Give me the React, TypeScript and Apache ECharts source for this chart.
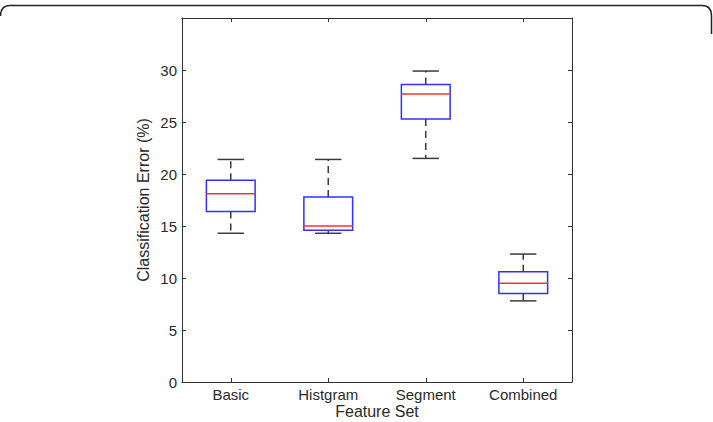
import React, { useEffect, useRef } from "react";
import * as echarts from "echarts";

// Feature sets and their classification-error distributions (%)
const categories = ["Basic", "Histgram", "Segment", "Combined"];
const lowerWhisker = [14.3, 14.3, 21.5, 7.8];
const firstQuartile = [16.4, 14.6, 25.3, 8.5];
const medians = [18.1, 15.0, 27.7, 9.5];
const thirdQuartile = [19.4, 17.8, 28.6, 10.6];
const upperWhisker = [21.4, 21.4, 29.9, 12.3];
const yTicks = [0, 5, 10, 15, 20, 25, 30];

const FONT = "'Liberation Sans', Arial, sans-serif";
const AXIS = "#333333";
const TEXT = "#2a2a2a";

echarts.graphic.registerShape(
  "frameEdge",
  echarts.graphic.extendPath(
    "M0.5,16 Q0.5,5.5 10,5.5 L702,5.5 Q711.5,5.5 711.5,16 L711.5,34",
    {}
  )
);

export default function App() {
  const ref = useRef<HTMLDivElement>(null);

  useEffect(() => {
    if (!ref.current) return;
    const chart = echarts.init(ref.current, undefined, { renderer: "svg" });

    const boxData = categories.map((_, i) => [
      i,
      lowerWhisker[i],
      firstQuartile[i],
      medians[i],
      thirdQuartile[i],
      upperWhisker[i],
    ]);

    const renderItem = (params: any, api: any) => {
      const idx = api.value(0);
      const band = api.size([1, 0])[0];
      const boxHalf = band * 0.25;
      const capHalf = band * 0.135;
      const [cx, yLow] = api.coord([idx, api.value(1)]);
      const yQ1 = api.coord([idx, api.value(2)])[1];
      const yMed = api.coord([idx, api.value(3)])[1];
      const yQ3 = api.coord([idx, api.value(4)])[1];
      const yHigh = api.coord([idx, api.value(5)])[1];
      const whiskerStyle = {
        stroke: "#3a3a3a",
        lineWidth: 1.5,
        lineDash: [7, 5],
      };
      const capStyle = { stroke: "#3a3a3a", lineWidth: 1.5 };
      return {
        type: "group",
        children: [
          {
            type: "line",
            shape: { x1: cx, y1: yQ3, x2: cx, y2: yHigh },
            style: whiskerStyle,
          },
          {
            type: "line",
            shape: { x1: cx, y1: yQ1, x2: cx, y2: yLow },
            style: whiskerStyle,
          },
          {
            type: "line",
            shape: { x1: cx - capHalf, y1: yHigh, x2: cx + capHalf, y2: yHigh },
            style: capStyle,
          },
          {
            type: "line",
            shape: { x1: cx - capHalf, y1: yLow, x2: cx + capHalf, y2: yLow },
            style: capStyle,
          },
          {
            type: "rect",
            shape: { x: cx - boxHalf, y: yQ3, width: boxHalf * 2, height: yQ1 - yQ3 },
            style: { fill: "none", stroke: "#3030ff", lineWidth: 1.5 },
          },
          {
            type: "line",
            shape: { x1: cx - boxHalf, y1: yMed, x2: cx + boxHalf, y2: yMed },
            style: { stroke: "#ff3030", lineWidth: 1.5 },
          },
        ],
      };
    };

    const tickStyle = { show: true, inside: true, length: 4, lineStyle: { color: AXIS } };

    chart.setOption({
      animation: false,
      backgroundColor: "#ffffff",
      grid: { left: 182, right: 141, top: 18, bottom: 40, outerBoundsMode: "none" },
      graphic: [
        {
          type: "frameEdge",
          style: { fill: "none", stroke: "#222222", lineWidth: 1.5 },
        },
      ],
      xAxis: [
        {
          type: "category",
          data: categories,
          position: "bottom",
          name: "Feature Set",
          nameLocation: "middle",
          nameGap: 21,
          nameMoveOverlap: false,
          nameTextStyle: { color: TEXT, fontFamily: FONT, fontSize: 16 },
          axisLine: { onZero: false, lineStyle: { color: AXIS } },
          axisTick: { ...tickStyle, alignWithLabel: true },
          axisLabel: { color: TEXT, fontFamily: FONT, fontSize: 15, margin: 5 },
          splitLine: { show: false },
        },
        {
          type: "category",
          data: categories,
          position: "top",
          axisLine: { show: true, onZero: false, lineStyle: { color: AXIS } },
          axisTick: { ...tickStyle, alignWithLabel: true },
          axisLabel: { show: false },
          splitLine: { show: false },
        },
      ],
      yAxis: [
        {
          type: "value",
          min: 0,
          max: 35,
          interval: 5,
          position: "left",
          name: "Classification Error (%)",
          nameLocation: "middle",
          nameGap: 31,
          nameMoveOverlap: false,
          nameTextStyle: { color: TEXT, fontFamily: FONT, fontSize: 16 },
          axisLine: { show: true, onZero: false, lineStyle: { color: AXIS } },
          axisTick: tickStyle,
          axisLabel: {
            color: TEXT,
            fontFamily: FONT,
            fontSize: 15,
            margin: 5,
            formatter: (v: number) => (yTicks.includes(v) ? String(v) : ""),
          },
          splitLine: { show: false },
        },
        {
          type: "value",
          min: 0,
          max: 35,
          interval: 5,
          position: "right",
          axisLine: { show: true, onZero: false, lineStyle: { color: AXIS } },
          axisTick: tickStyle,
          axisLabel: { show: false },
          splitLine: { show: false },
        },
      ],
      series: [
        {
          type: "custom",
          xAxisIndex: 0,
          yAxisIndex: 0,
          renderItem,
          encode: { x: 0, y: [1, 2, 3, 4, 5] },
          data: boxData,
        },
      ],
    });

    return () => chart.dispose();
  }, []);

  return <div ref={ref} style={{ width: 713, height: 422, position: "absolute", left: 0, top: 0 }} />;
}
